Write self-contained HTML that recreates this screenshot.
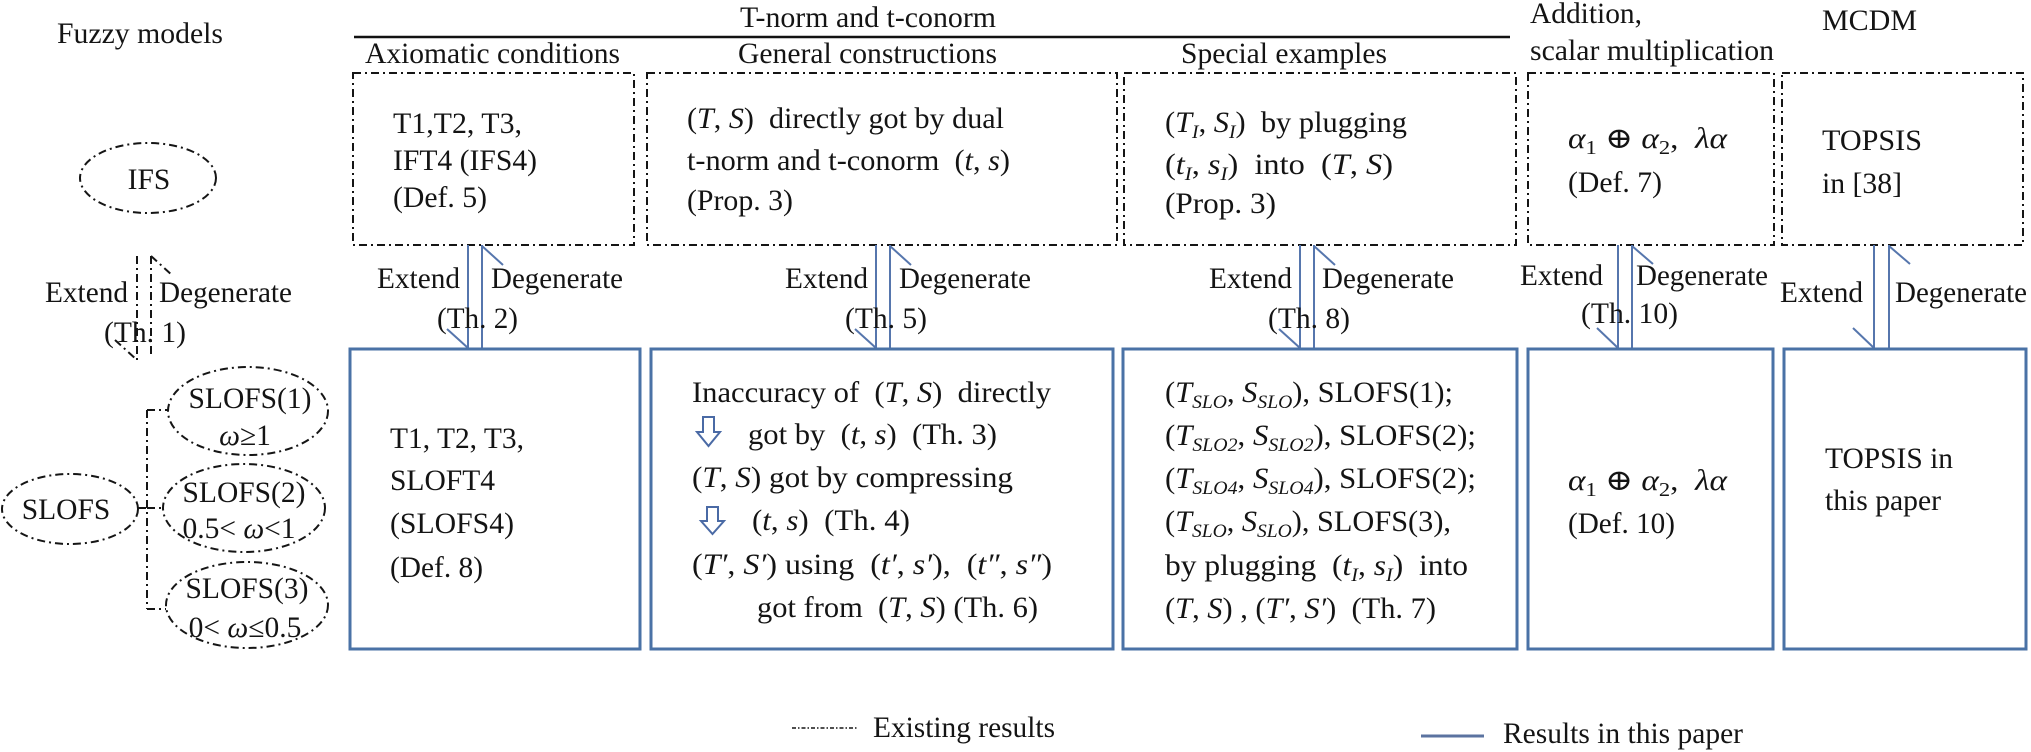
<!DOCTYPE html>
<html><head><meta charset="utf-8">
<style>
html,body{margin:0;padding:0;background:#fff;}
svg{display:block;}
text{font-family:"Liberation Serif","DejaVu Serif",serif;font-size:29.5px;fill:#141414;white-space:pre;}
.i{font-style:italic;}
.sub{font-size:19px;font-style:italic;}
.num{font-size:20px;}
.dd{fill:none;stroke:#151515;stroke-width:2;stroke-dasharray:8 4 2 4;}
.bb{fill:none;stroke:#4a72a6;stroke-width:3;}
.ar{fill:none;stroke:#5676ad;stroke-width:2;}
.ha{fill:none;stroke:#4a6aa5;stroke-width:2;stroke-linejoin:miter;}
</style></head><body>
<svg width="2031" height="752" viewBox="0 0 2031 752" xmlns="http://www.w3.org/2000/svg">

<!-- Headers -->
<text x="57" y="43" textLength="166" lengthAdjust="spacingAndGlyphs">Fuzzy models</text>
<text x="740" y="27" textLength="256" lengthAdjust="spacingAndGlyphs">T-norm and t-conorm</text>
<line x1="354" y1="37" x2="1510" y2="37" stroke="#111" stroke-width="2.5"/>
<text x="365" y="63" textLength="255" lengthAdjust="spacingAndGlyphs">Axiomatic conditions</text>
<text x="738" y="63" textLength="259" lengthAdjust="spacingAndGlyphs">General constructions</text>
<text x="1181" y="63" textLength="206" lengthAdjust="spacingAndGlyphs">Special examples</text>
<text x="1530" y="23" textLength="112" lengthAdjust="spacingAndGlyphs">Addition,</text>
<text x="1530" y="60" textLength="244" lengthAdjust="spacingAndGlyphs">scalar multiplication</text>
<text x="1822" y="30" textLength="95" lengthAdjust="spacingAndGlyphs">MCDM</text>

<!-- Left column -->
<ellipse class="dd" cx="148" cy="178" rx="68" ry="35"/>
<text x="149" y="189" text-anchor="middle">IFS</text>
<line class="dd" x1="137" y1="256" x2="137" y2="360"/>
<line class="dd" x1="115" y1="340" x2="137" y2="360"/>
<line class="dd" x1="151" y1="256" x2="151" y2="358"/>
<line class="dd" x1="151" y1="256" x2="173" y2="276"/>
<text x="45" y="302" textLength="83" lengthAdjust="spacingAndGlyphs">Extend</text>
<text x="159" y="302" textLength="133" lengthAdjust="spacingAndGlyphs">Degenerate</text>
<text x="104" y="342" textLength="82" lengthAdjust="spacingAndGlyphs">(Th. 1)</text>

<ellipse class="dd" cx="70" cy="509" rx="68" ry="35"/>
<text x="66" y="519" text-anchor="middle">SLOFS</text>
<path class="dd" d="M138 508 H147 M147 410 V609 M147 410 H168 M147 508 H163 M147 609 H166"/>

<ellipse class="dd" cx="248" cy="411" rx="80" ry="44"/>
<text x="250" y="408" text-anchor="middle">SLOFS(1)</text>
<text x="245" y="445" text-anchor="middle"><tspan class="i">ω</tspan>≥1</text>

<ellipse class="dd" cx="244" cy="508" rx="81" ry="44"/>
<text x="244" y="502" text-anchor="middle">SLOFS(2)</text>
<text x="239" y="538" text-anchor="middle">0.5&lt; <tspan class="i">ω</tspan>&lt;1</text>

<ellipse class="dd" cx="247" cy="605" rx="81" ry="43"/>
<text x="247" y="598" text-anchor="middle">SLOFS(3)</text>
<text x="245" y="637" text-anchor="middle">0&lt; <tspan class="i">ω</tspan>≤0.5</text>

<!-- Top dash-dot boxes -->
<rect class="dd" x="353" y="73" width="281" height="172"/>
<rect class="dd" x="647" y="73" width="470" height="172"/>
<rect class="dd" x="1124" y="73" width="392" height="172"/>
<rect class="dd" x="1528" y="73" width="246" height="172"/>
<rect class="dd" x="1782" y="73" width="241" height="172"/>

<!-- Top box texts -->
<text x="393" y="133" textLength="129" lengthAdjust="spacingAndGlyphs">T1,T2, T3,</text>
<text x="393" y="170" textLength="144" lengthAdjust="spacingAndGlyphs">IFT4 (IFS4)</text>
<text x="393" y="207" textLength="94" lengthAdjust="spacingAndGlyphs">(Def. 5)</text>

<text x="687" y="128" textLength="317" lengthAdjust="spacingAndGlyphs">(<tspan class="i">T</tspan>, <tspan class="i">S</tspan>)  directly got by dual</text>
<text x="687" y="170" textLength="323" lengthAdjust="spacingAndGlyphs">t-norm and t-conorm  (<tspan class="i">t</tspan>, <tspan class="i">s</tspan>)</text>
<text x="687" y="210" textLength="106" lengthAdjust="spacingAndGlyphs">(Prop. 3)</text>

<text x="1165" y="132" textLength="242" lengthAdjust="spacingAndGlyphs">(<tspan class="i">T</tspan><tspan class="sub" dy="6">I</tspan><tspan dy="-6">, </tspan><tspan class="i">S</tspan><tspan class="sub" dy="6">I</tspan><tspan dy="-6">)  by plugging</tspan></text>
<text x="1165" y="174" textLength="228" lengthAdjust="spacingAndGlyphs">(<tspan class="i">t</tspan><tspan class="sub" dy="6">I</tspan><tspan dy="-6">, </tspan><tspan class="i">s</tspan><tspan class="sub" dy="6">I</tspan><tspan dy="-6">)  into  (</tspan><tspan class="i">T</tspan>, <tspan class="i">S</tspan>)</text>
<text x="1165" y="213" textLength="111" lengthAdjust="spacingAndGlyphs">(Prop. 3)</text>

<text x="1568" y="148" textLength="159" lengthAdjust="spacingAndGlyphs"><tspan class="i">α</tspan><tspan class="num" dy="6">1</tspan><tspan dy="-6"> ⊕ </tspan><tspan class="i">α</tspan><tspan class="num" dy="6">2</tspan><tspan dy="-6">,  </tspan><tspan class="i">λα</tspan></text>
<text x="1568" y="192" textLength="94" lengthAdjust="spacingAndGlyphs">(Def. 7)</text>

<text x="1822" y="150" textLength="100" lengthAdjust="spacingAndGlyphs">TOPSIS</text>
<text x="1822" y="193" textLength="80" lengthAdjust="spacingAndGlyphs">in [38]</text>

<!-- Connectors (blue half-arrows) -->
<g class="ar">
  <line x1="468" y1="245" x2="468" y2="349"/><line x1="447" y1="329" x2="468" y2="348"/>
  <line x1="482" y1="245" x2="482" y2="349"/><line x1="482" y1="246" x2="503" y2="265"/>
  <line x1="876" y1="245" x2="876" y2="349"/><line x1="855" y1="329" x2="876" y2="348"/>
  <line x1="890" y1="245" x2="890" y2="349"/><line x1="890" y1="246" x2="911" y2="265"/>
  <line x1="1300" y1="245" x2="1300" y2="349"/><line x1="1279" y1="329" x2="1300" y2="348"/>
  <line x1="1314" y1="245" x2="1314" y2="349"/><line x1="1314" y1="246" x2="1335" y2="265"/>
  <line x1="1618" y1="245" x2="1618" y2="349"/><line x1="1597" y1="328" x2="1618" y2="348"/>
  <line x1="1632" y1="245" x2="1632" y2="349"/><line x1="1632" y1="246" x2="1653" y2="264"/>
  <line x1="1874" y1="245" x2="1874" y2="349"/><line x1="1853" y1="328" x2="1874" y2="348"/>
  <line x1="1889" y1="245" x2="1889" y2="349"/><line x1="1889" y1="246" x2="1910" y2="264"/>
</g>

<!-- Connector labels -->
<text x="377" y="288" textLength="83" lengthAdjust="spacingAndGlyphs">Extend</text>
<text x="491" y="288" textLength="132" lengthAdjust="spacingAndGlyphs">Degenerate</text>
<text x="437" y="328" textLength="81" lengthAdjust="spacingAndGlyphs">(Th. 2)</text>

<text x="785" y="288" textLength="83" lengthAdjust="spacingAndGlyphs">Extend</text>
<text x="899" y="288" textLength="132" lengthAdjust="spacingAndGlyphs">Degenerate</text>
<text x="845" y="328" textLength="82" lengthAdjust="spacingAndGlyphs">(Th. 5)</text>

<text x="1209" y="288" textLength="83" lengthAdjust="spacingAndGlyphs">Extend</text>
<text x="1322" y="288" textLength="132" lengthAdjust="spacingAndGlyphs">Degenerate</text>
<text x="1268" y="328" textLength="82" lengthAdjust="spacingAndGlyphs">(Th. 8)</text>

<text x="1520" y="285" textLength="83" lengthAdjust="spacingAndGlyphs">Extend</text>
<text x="1636" y="285" textLength="132" lengthAdjust="spacingAndGlyphs">Degenerate</text>
<text x="1581" y="323" textLength="97" lengthAdjust="spacingAndGlyphs">(Th. 10)</text>

<text x="1780" y="302" textLength="83" lengthAdjust="spacingAndGlyphs">Extend</text>
<text x="1895" y="302" textLength="132" lengthAdjust="spacingAndGlyphs">Degenerate</text>

<!-- Bottom blue boxes -->
<rect class="bb" x="350" y="349" width="290" height="300"/>
<rect class="bb" x="651" y="349" width="462" height="300"/>
<rect class="bb" x="1123" y="349" width="394" height="300"/>
<rect class="bb" x="1528" y="349" width="245" height="300"/>
<rect class="bb" x="1784" y="349" width="242" height="300"/>

<!-- Bottom box 1 -->
<text x="390" y="448" textLength="134" lengthAdjust="spacingAndGlyphs">T1, T2, T3,</text>
<text x="390" y="490" textLength="105" lengthAdjust="spacingAndGlyphs">SLOFT4</text>
<text x="390" y="533" textLength="124" lengthAdjust="spacingAndGlyphs">(SLOFS4)</text>
<text x="390" y="577" textLength="93" lengthAdjust="spacingAndGlyphs">(Def. 8)</text>

<!-- Bottom box 2 -->
<text x="692" y="402" textLength="359" lengthAdjust="spacingAndGlyphs">Inaccuracy of  (<tspan class="i">T</tspan>, <tspan class="i">S</tspan>)  directly</text>
<polygon class="ha" points="703,417 714,417 714,432 720,432 708.5,446 697,432 703,432"/>
<text x="748" y="444" textLength="249" lengthAdjust="spacingAndGlyphs">got by  (<tspan class="i">t</tspan>, <tspan class="i">s</tspan>)  (Th. 3)</text>
<text x="692" y="487" textLength="321" lengthAdjust="spacingAndGlyphs">(<tspan class="i">T</tspan>, <tspan class="i">S</tspan>) got by compressing</text>
<polygon class="ha" points="707,507 718,507 718,521 724,521 712.5,534 701,521 707,521"/>
<text x="752" y="530" textLength="158" lengthAdjust="spacingAndGlyphs">(<tspan class="i">t</tspan>, <tspan class="i">s</tspan>)  (Th. 4)</text>
<text x="692" y="574" textLength="360" lengthAdjust="spacingAndGlyphs">(<tspan class="i">T′</tspan>, <tspan class="i">S′</tspan>) using  (<tspan class="i">t′</tspan>, <tspan class="i">s′</tspan>),  (<tspan class="i">t″</tspan>, <tspan class="i">s″</tspan>)</text>
<text x="757" y="617" textLength="281" lengthAdjust="spacingAndGlyphs">got from  (<tspan class="i">T</tspan>, <tspan class="i">S</tspan>) (Th. 6)</text>

<!-- Bottom box 3 -->
<text x="1165" y="402" textLength="288" lengthAdjust="spacingAndGlyphs">(<tspan class="i">T</tspan><tspan class="sub" dy="6">SLO</tspan><tspan dy="-6">, </tspan><tspan class="i">S</tspan><tspan class="sub" dy="6">SLO</tspan><tspan dy="-6">), SLOFS(1);</tspan></text>
<text x="1165" y="445" textLength="311" lengthAdjust="spacingAndGlyphs">(<tspan class="i">T</tspan><tspan class="sub" dy="6">SLO2</tspan><tspan dy="-6">, </tspan><tspan class="i">S</tspan><tspan class="sub" dy="6">SLO2</tspan><tspan dy="-6">), SLOFS(2);</tspan></text>
<text x="1165" y="488" textLength="311" lengthAdjust="spacingAndGlyphs">(<tspan class="i">T</tspan><tspan class="sub" dy="6">SLO4</tspan><tspan dy="-6">, </tspan><tspan class="i">S</tspan><tspan class="sub" dy="6">SLO4</tspan><tspan dy="-6">), SLOFS(2);</tspan></text>
<text x="1165" y="531" textLength="286" lengthAdjust="spacingAndGlyphs">(<tspan class="i">T</tspan><tspan class="sub" dy="6">SLO</tspan><tspan dy="-6">, </tspan><tspan class="i">S</tspan><tspan class="sub" dy="6">SLO</tspan><tspan dy="-6">), SLOFS(3),</tspan></text>
<text x="1165" y="575" textLength="303" lengthAdjust="spacingAndGlyphs">by plugging  (<tspan class="i">t</tspan><tspan class="sub" dy="6">I</tspan><tspan dy="-6">, </tspan><tspan class="i">s</tspan><tspan class="sub" dy="6">I</tspan><tspan dy="-6">)  into</tspan></text>
<text x="1165" y="618" textLength="271" lengthAdjust="spacingAndGlyphs">(<tspan class="i">T</tspan>, <tspan class="i">S</tspan>) , (<tspan class="i">T′</tspan>, <tspan class="i">S′</tspan>)  (Th. 7)</text>

<!-- Bottom box 4 -->
<text x="1568" y="490" textLength="159" lengthAdjust="spacingAndGlyphs"><tspan class="i">α</tspan><tspan class="num" dy="6">1</tspan><tspan dy="-6"> ⊕ </tspan><tspan class="i">α</tspan><tspan class="num" dy="6">2</tspan><tspan dy="-6">,  </tspan><tspan class="i">λα</tspan></text>
<text x="1568" y="533" textLength="107" lengthAdjust="spacingAndGlyphs">(Def. 10)</text>

<!-- Bottom box 5 -->
<text x="1825" y="468" textLength="128" lengthAdjust="spacingAndGlyphs">TOPSIS in</text>
<text x="1825" y="510" textLength="116" lengthAdjust="spacingAndGlyphs">this paper</text>

<!-- Legend -->
<line x1="792" y1="728" x2="857" y2="728" stroke="#151515" stroke-width="1.6" stroke-dasharray="4 2 1.5 2"/>
<text x="873" y="737" textLength="182" lengthAdjust="spacingAndGlyphs">Existing results</text>
<line x1="1421" y1="736" x2="1484" y2="736" stroke="#5b73a0" stroke-width="3"/>
<text x="1503" y="743" textLength="240" lengthAdjust="spacingAndGlyphs">Results in this paper</text>

</svg>
</body></html>
